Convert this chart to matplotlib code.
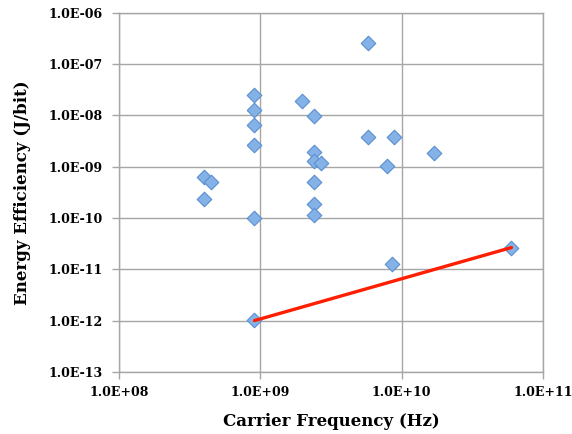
import numpy as np
import matplotlib

matplotlib.use("Agg")
import matplotlib.pyplot as plt
from matplotlib.ticker import FuncFormatter, LogLocator, NullLocator

# carrier frequency (Hz) and energy efficiency (J/bit) of each reported design
FREQ_HZ = [5.8e9, 9.1e8, 9.1e8, 9.1e8, 9.1e8, 1.98e9, 2.4e9, 5.8e9, 8.9e9,
           1.7e10, 2.4e9, 2.4e9, 2.7e9, 7.9e9, 4.0e8, 4.5e8, 4.0e8, 2.4e9,
           2.4e9, 2.4e9, 9.1e8, 8.5e9, 6.0e10, 9.1e8]
ENERGY_J = [2.5e-7, 2.5e-8, 1.25e-8, 6.4e-9, 2.6e-9, 1.9e-8, 9.5e-9, 3.7e-9, 3.7e-9,
            1.8e-9, 1.9e-9, 1.3e-9, 1.15e-9, 1.05e-9, 6.3e-10, 5.0e-10, 2.3e-10, 5.1e-10,
            1.9e-10, 1.15e-10, 1.0e-10, 1.24e-11, 2.65e-11, 1.05e-12]

# red trend line endpoints
TREND_FREQ = [9.1e8, 6.0e10]
TREND_ENERGY = [1.0e-12, 2.65e-11]

GRID_GRAY = "#a6a6a6"


def sci_fmt(v, pos):
    exp = int(round(np.log10(v)))
    sign = "+" if exp >= 0 else "-"
    return f"1.0E{sign}{abs(exp):02d}"


fig = plt.figure(figsize=(5.72, 4.34), dpi=100)
ax = fig.add_axes([0.208, 0.143, 0.741, 0.828])

ax.set_xscale("log")
ax.set_yscale("log")
ax.set_xlim(1e8, 1e11)
ax.set_ylim(1e-13, 1e-6)

ax.scatter(FREQ_HZ, ENERGY_J, marker="D", s=55, c="#84b2e6",
           edgecolors="#5b8fcf", linewidths=0.8, zorder=3)
ax.plot(TREND_FREQ, TREND_ENERGY, color="#ff1e00", lw=2.4,
        solid_capstyle="round", zorder=4)

ax.xaxis.set_major_locator(LogLocator(base=10, numticks=10))
ax.yaxis.set_major_locator(LogLocator(base=10, numticks=10))
ax.xaxis.set_minor_locator(NullLocator())
ax.yaxis.set_minor_locator(NullLocator())
ax.xaxis.set_major_formatter(FuncFormatter(sci_fmt))
ax.yaxis.set_major_formatter(FuncFormatter(sci_fmt))

ax.grid(True, color=GRID_GRAY, lw=1.0)
ax.set_axisbelow(True)
for sp in ax.spines.values():
    sp.set_color(GRID_GRAY)
    sp.set_linewidth(1.0)

ax.tick_params(direction="out", length=5, width=1.0, color=GRID_GRAY,
               labelsize=9)
ax.tick_params(axis="y", pad=7)
ax.tick_params(axis="x", pad=5)
for lbl in ax.get_xticklabels() + ax.get_yticklabels():
    lbl.set_fontfamily("DejaVu Serif")
    lbl.set_fontweight("bold")

ax.set_xlabel("Carrier Frequency (Hz)", fontsize=12, fontweight="bold",
              family="DejaVu Serif", labelpad=10)
ax.set_ylabel("Energy Efficiency (J/bit)", fontsize=12, fontweight="bold",
              family="DejaVu Serif", labelpad=12)

fig.savefig("out.png", dpi=100)
